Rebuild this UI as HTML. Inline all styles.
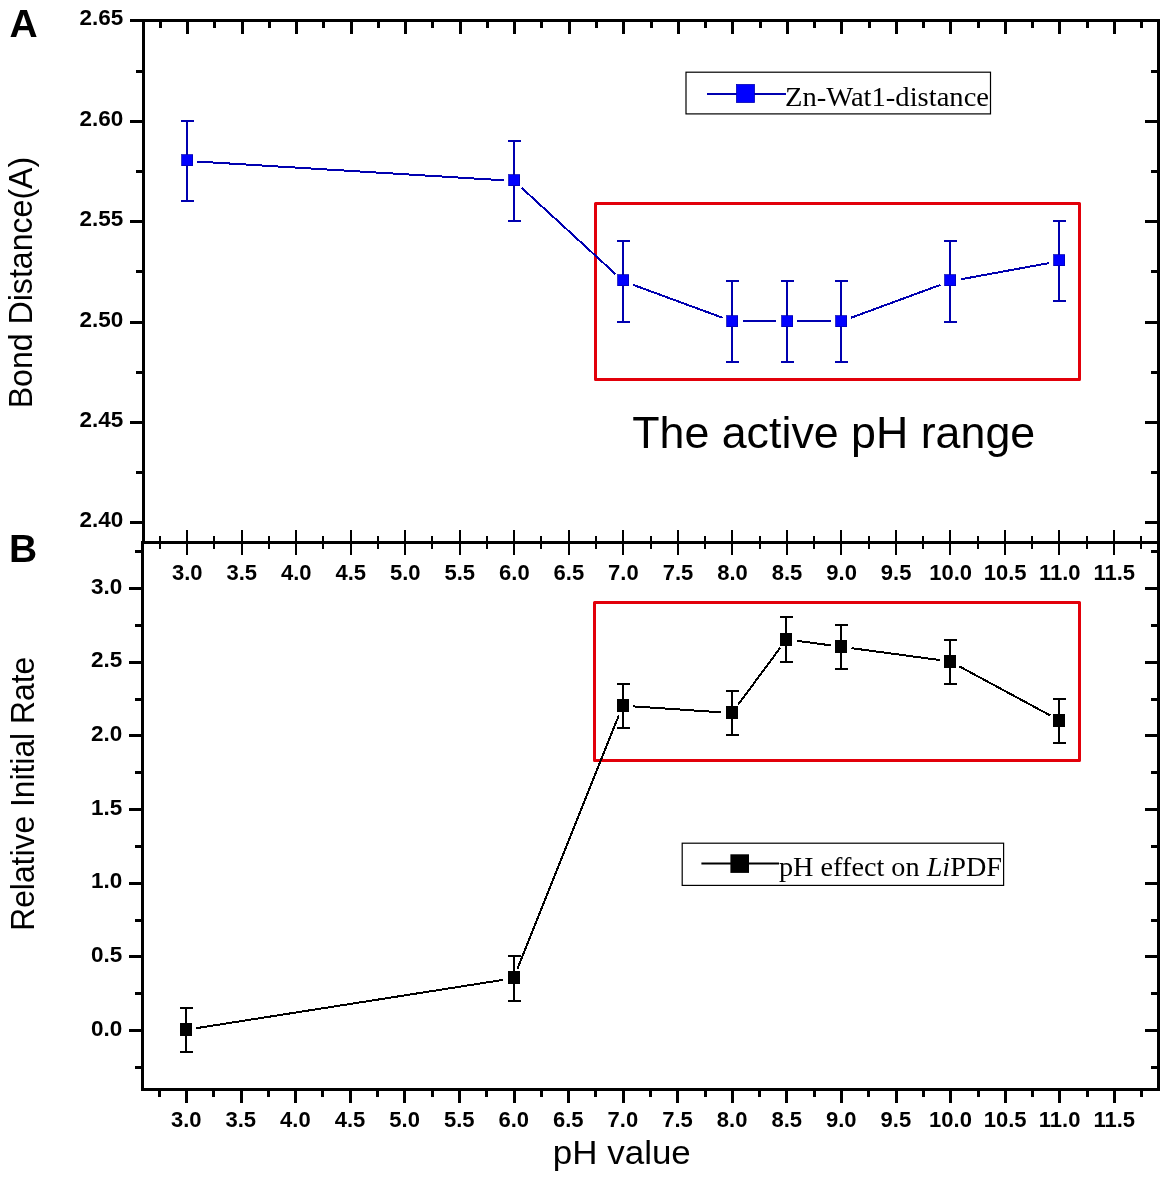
<!DOCTYPE html>
<html lang="en"><head><meta charset="utf-8"><title>pH effect on LiPDF</title>
<style>html,body{margin:0;padding:0;background:#fff}svg{display:block}</style></head>
<body>
<svg width="1170" height="1182" viewBox="0 0 1170 1182">
<rect width="1170" height="1182" fill="#fff"/>
<g stroke-linecap="butt">
<line x1="130.00" y1="20.50" x2="1160.00" y2="20.50" stroke="#000" stroke-width="3" />
<line x1="141.00" y1="542.50" x2="1160.00" y2="542.50" stroke="#000" stroke-width="3" />
<line x1="141.00" y1="1089.50" x2="1160.00" y2="1089.50" stroke="#000" stroke-width="3" />
<line x1="143.50" y1="20.50" x2="143.50" y2="542.50" stroke="#000" stroke-width="3" />
<line x1="142.50" y1="542.50" x2="142.50" y2="1089.50" stroke="#000" stroke-width="3" />
<line x1="1158.50" y1="20.50" x2="1158.50" y2="1089.50" stroke="#000" stroke-width="3" />
<line x1="160.50" y1="22.00" x2="160.50" y2="28.00" stroke="#000" stroke-width="3" />
<line x1="160.00" y1="536.00" x2="160.00" y2="549.00" stroke="#000" stroke-width="2" />
<line x1="159.50" y1="1091.00" x2="159.50" y2="1097.00" stroke="#000" stroke-width="3" />
<line x1="187.50" y1="22.00" x2="187.50" y2="34.00" stroke="#000" stroke-width="3" />
<line x1="187.00" y1="530.00" x2="187.00" y2="555.00" stroke="#000" stroke-width="2" />
<line x1="186.50" y1="1091.00" x2="186.50" y2="1103.00" stroke="#000" stroke-width="3" />
<line x1="214.50" y1="22.00" x2="214.50" y2="28.00" stroke="#000" stroke-width="3" />
<line x1="214.00" y1="536.00" x2="214.00" y2="549.00" stroke="#000" stroke-width="2" />
<line x1="213.50" y1="1091.00" x2="213.50" y2="1097.00" stroke="#000" stroke-width="3" />
<line x1="242.50" y1="22.00" x2="242.50" y2="34.00" stroke="#000" stroke-width="3" />
<line x1="242.00" y1="530.00" x2="242.00" y2="555.00" stroke="#000" stroke-width="2" />
<line x1="241.50" y1="1091.00" x2="241.50" y2="1103.00" stroke="#000" stroke-width="3" />
<line x1="269.50" y1="22.00" x2="269.50" y2="28.00" stroke="#000" stroke-width="3" />
<line x1="269.00" y1="536.00" x2="269.00" y2="549.00" stroke="#000" stroke-width="2" />
<line x1="268.50" y1="1091.00" x2="268.50" y2="1097.00" stroke="#000" stroke-width="3" />
<line x1="296.50" y1="22.00" x2="296.50" y2="34.00" stroke="#000" stroke-width="3" />
<line x1="296.00" y1="530.00" x2="296.00" y2="555.00" stroke="#000" stroke-width="2" />
<line x1="295.50" y1="1091.00" x2="295.50" y2="1103.00" stroke="#000" stroke-width="3" />
<line x1="323.50" y1="22.00" x2="323.50" y2="28.00" stroke="#000" stroke-width="3" />
<line x1="323.00" y1="536.00" x2="323.00" y2="549.00" stroke="#000" stroke-width="2" />
<line x1="322.50" y1="1091.00" x2="322.50" y2="1097.00" stroke="#000" stroke-width="3" />
<line x1="351.50" y1="22.00" x2="351.50" y2="34.00" stroke="#000" stroke-width="3" />
<line x1="351.00" y1="530.00" x2="351.00" y2="555.00" stroke="#000" stroke-width="2" />
<line x1="350.50" y1="1091.00" x2="350.50" y2="1103.00" stroke="#000" stroke-width="3" />
<line x1="378.50" y1="22.00" x2="378.50" y2="28.00" stroke="#000" stroke-width="3" />
<line x1="378.00" y1="536.00" x2="378.00" y2="549.00" stroke="#000" stroke-width="2" />
<line x1="377.50" y1="1091.00" x2="377.50" y2="1097.00" stroke="#000" stroke-width="3" />
<line x1="405.50" y1="22.00" x2="405.50" y2="34.00" stroke="#000" stroke-width="3" />
<line x1="405.00" y1="530.00" x2="405.00" y2="555.00" stroke="#000" stroke-width="2" />
<line x1="404.50" y1="1091.00" x2="404.50" y2="1103.00" stroke="#000" stroke-width="3" />
<line x1="432.50" y1="22.00" x2="432.50" y2="28.00" stroke="#000" stroke-width="3" />
<line x1="432.00" y1="536.00" x2="432.00" y2="549.00" stroke="#000" stroke-width="2" />
<line x1="432.50" y1="1091.00" x2="432.50" y2="1097.00" stroke="#000" stroke-width="3" />
<line x1="460.50" y1="22.00" x2="460.50" y2="34.00" stroke="#000" stroke-width="3" />
<line x1="460.00" y1="530.00" x2="460.00" y2="555.00" stroke="#000" stroke-width="2" />
<line x1="459.50" y1="1091.00" x2="459.50" y2="1103.00" stroke="#000" stroke-width="3" />
<line x1="487.50" y1="22.00" x2="487.50" y2="28.00" stroke="#000" stroke-width="3" />
<line x1="487.00" y1="536.00" x2="487.00" y2="549.00" stroke="#000" stroke-width="2" />
<line x1="486.50" y1="1091.00" x2="486.50" y2="1097.00" stroke="#000" stroke-width="3" />
<line x1="514.50" y1="22.00" x2="514.50" y2="34.00" stroke="#000" stroke-width="3" />
<line x1="514.00" y1="530.00" x2="514.00" y2="555.00" stroke="#000" stroke-width="2" />
<line x1="514.50" y1="1091.00" x2="514.50" y2="1103.00" stroke="#000" stroke-width="3" />
<line x1="541.50" y1="22.00" x2="541.50" y2="28.00" stroke="#000" stroke-width="3" />
<line x1="541.00" y1="536.00" x2="541.00" y2="549.00" stroke="#000" stroke-width="2" />
<line x1="541.50" y1="1091.00" x2="541.50" y2="1097.00" stroke="#000" stroke-width="3" />
<line x1="569.50" y1="22.00" x2="569.50" y2="34.00" stroke="#000" stroke-width="3" />
<line x1="569.00" y1="530.00" x2="569.00" y2="555.00" stroke="#000" stroke-width="2" />
<line x1="568.50" y1="1091.00" x2="568.50" y2="1103.00" stroke="#000" stroke-width="3" />
<line x1="596.50" y1="22.00" x2="596.50" y2="28.00" stroke="#000" stroke-width="3" />
<line x1="596.00" y1="536.00" x2="596.00" y2="549.00" stroke="#000" stroke-width="2" />
<line x1="595.50" y1="1091.00" x2="595.50" y2="1097.00" stroke="#000" stroke-width="3" />
<line x1="623.50" y1="22.00" x2="623.50" y2="34.00" stroke="#000" stroke-width="3" />
<line x1="623.00" y1="530.00" x2="623.00" y2="555.00" stroke="#000" stroke-width="2" />
<line x1="623.50" y1="1091.00" x2="623.50" y2="1103.00" stroke="#000" stroke-width="3" />
<line x1="651.50" y1="22.00" x2="651.50" y2="28.00" stroke="#000" stroke-width="3" />
<line x1="651.00" y1="536.00" x2="651.00" y2="549.00" stroke="#000" stroke-width="2" />
<line x1="650.50" y1="1091.00" x2="650.50" y2="1097.00" stroke="#000" stroke-width="3" />
<line x1="678.50" y1="22.00" x2="678.50" y2="34.00" stroke="#000" stroke-width="3" />
<line x1="678.00" y1="530.00" x2="678.00" y2="555.00" stroke="#000" stroke-width="2" />
<line x1="677.50" y1="1091.00" x2="677.50" y2="1103.00" stroke="#000" stroke-width="3" />
<line x1="705.50" y1="22.00" x2="705.50" y2="28.00" stroke="#000" stroke-width="3" />
<line x1="705.00" y1="536.00" x2="705.00" y2="549.00" stroke="#000" stroke-width="2" />
<line x1="705.50" y1="1091.00" x2="705.50" y2="1097.00" stroke="#000" stroke-width="3" />
<line x1="732.50" y1="22.00" x2="732.50" y2="34.00" stroke="#000" stroke-width="3" />
<line x1="732.00" y1="530.00" x2="732.00" y2="555.00" stroke="#000" stroke-width="2" />
<line x1="732.50" y1="1091.00" x2="732.50" y2="1103.00" stroke="#000" stroke-width="3" />
<line x1="760.50" y1="22.00" x2="760.50" y2="28.00" stroke="#000" stroke-width="3" />
<line x1="760.00" y1="536.00" x2="760.00" y2="549.00" stroke="#000" stroke-width="2" />
<line x1="759.50" y1="1091.00" x2="759.50" y2="1097.00" stroke="#000" stroke-width="3" />
<line x1="787.50" y1="22.00" x2="787.50" y2="34.00" stroke="#000" stroke-width="3" />
<line x1="787.00" y1="530.00" x2="787.00" y2="555.00" stroke="#000" stroke-width="2" />
<line x1="786.50" y1="1091.00" x2="786.50" y2="1103.00" stroke="#000" stroke-width="3" />
<line x1="814.50" y1="22.00" x2="814.50" y2="28.00" stroke="#000" stroke-width="3" />
<line x1="814.00" y1="536.00" x2="814.00" y2="549.00" stroke="#000" stroke-width="2" />
<line x1="814.50" y1="1091.00" x2="814.50" y2="1097.00" stroke="#000" stroke-width="3" />
<line x1="841.50" y1="22.00" x2="841.50" y2="34.00" stroke="#000" stroke-width="3" />
<line x1="841.00" y1="530.00" x2="841.00" y2="555.00" stroke="#000" stroke-width="2" />
<line x1="841.50" y1="1091.00" x2="841.50" y2="1103.00" stroke="#000" stroke-width="3" />
<line x1="869.50" y1="22.00" x2="869.50" y2="28.00" stroke="#000" stroke-width="3" />
<line x1="869.00" y1="536.00" x2="869.00" y2="549.00" stroke="#000" stroke-width="2" />
<line x1="868.50" y1="1091.00" x2="868.50" y2="1097.00" stroke="#000" stroke-width="3" />
<line x1="896.50" y1="22.00" x2="896.50" y2="34.00" stroke="#000" stroke-width="3" />
<line x1="896.00" y1="530.00" x2="896.00" y2="555.00" stroke="#000" stroke-width="2" />
<line x1="896.50" y1="1091.00" x2="896.50" y2="1103.00" stroke="#000" stroke-width="3" />
<line x1="923.50" y1="22.00" x2="923.50" y2="28.00" stroke="#000" stroke-width="3" />
<line x1="923.00" y1="536.00" x2="923.00" y2="549.00" stroke="#000" stroke-width="2" />
<line x1="923.50" y1="1091.00" x2="923.50" y2="1097.00" stroke="#000" stroke-width="3" />
<line x1="950.50" y1="22.00" x2="950.50" y2="34.00" stroke="#000" stroke-width="3" />
<line x1="950.00" y1="530.00" x2="950.00" y2="555.00" stroke="#000" stroke-width="2" />
<line x1="950.50" y1="1091.00" x2="950.50" y2="1103.00" stroke="#000" stroke-width="3" />
<line x1="978.50" y1="22.00" x2="978.50" y2="28.00" stroke="#000" stroke-width="3" />
<line x1="978.00" y1="536.00" x2="978.00" y2="549.00" stroke="#000" stroke-width="2" />
<line x1="978.50" y1="1091.00" x2="978.50" y2="1097.00" stroke="#000" stroke-width="3" />
<line x1="1005.50" y1="22.00" x2="1005.50" y2="34.00" stroke="#000" stroke-width="3" />
<line x1="1005.00" y1="530.00" x2="1005.00" y2="555.00" stroke="#000" stroke-width="2" />
<line x1="1005.50" y1="1091.00" x2="1005.50" y2="1103.00" stroke="#000" stroke-width="3" />
<line x1="1032.50" y1="22.00" x2="1032.50" y2="28.00" stroke="#000" stroke-width="3" />
<line x1="1032.00" y1="536.00" x2="1032.00" y2="549.00" stroke="#000" stroke-width="2" />
<line x1="1032.50" y1="1091.00" x2="1032.50" y2="1097.00" stroke="#000" stroke-width="3" />
<line x1="1059.50" y1="22.00" x2="1059.50" y2="34.00" stroke="#000" stroke-width="3" />
<line x1="1059.00" y1="530.00" x2="1059.00" y2="555.00" stroke="#000" stroke-width="2" />
<line x1="1059.50" y1="1091.00" x2="1059.50" y2="1103.00" stroke="#000" stroke-width="3" />
<line x1="1087.50" y1="22.00" x2="1087.50" y2="28.00" stroke="#000" stroke-width="3" />
<line x1="1087.00" y1="536.00" x2="1087.00" y2="549.00" stroke="#000" stroke-width="2" />
<line x1="1087.50" y1="1091.00" x2="1087.50" y2="1097.00" stroke="#000" stroke-width="3" />
<line x1="1114.50" y1="22.00" x2="1114.50" y2="34.00" stroke="#000" stroke-width="3" />
<line x1="1114.00" y1="530.00" x2="1114.00" y2="555.00" stroke="#000" stroke-width="2" />
<line x1="1114.50" y1="1091.00" x2="1114.50" y2="1103.00" stroke="#000" stroke-width="3" />
<line x1="1141.50" y1="22.00" x2="1141.50" y2="28.00" stroke="#000" stroke-width="3" />
<line x1="1141.00" y1="536.00" x2="1141.00" y2="549.00" stroke="#000" stroke-width="2" />
<line x1="1141.50" y1="1091.00" x2="1141.50" y2="1097.00" stroke="#000" stroke-width="3" />
<line x1="130.00" y1="522.50" x2="142.00" y2="522.50" stroke="#000" stroke-width="3" />
<line x1="1145.00" y1="522.50" x2="1157.00" y2="522.50" stroke="#000" stroke-width="3" />
<line x1="136.00" y1="472.50" x2="142.00" y2="472.50" stroke="#000" stroke-width="3" />
<line x1="1151.00" y1="472.50" x2="1157.00" y2="472.50" stroke="#000" stroke-width="3" />
<line x1="130.00" y1="422.50" x2="142.00" y2="422.50" stroke="#000" stroke-width="3" />
<line x1="1145.00" y1="422.50" x2="1157.00" y2="422.50" stroke="#000" stroke-width="3" />
<line x1="136.00" y1="372.50" x2="142.00" y2="372.50" stroke="#000" stroke-width="3" />
<line x1="1151.00" y1="372.50" x2="1157.00" y2="372.50" stroke="#000" stroke-width="3" />
<line x1="130.00" y1="322.50" x2="142.00" y2="322.50" stroke="#000" stroke-width="3" />
<line x1="1145.00" y1="322.50" x2="1157.00" y2="322.50" stroke="#000" stroke-width="3" />
<line x1="136.00" y1="271.50" x2="142.00" y2="271.50" stroke="#000" stroke-width="3" />
<line x1="1151.00" y1="271.50" x2="1157.00" y2="271.50" stroke="#000" stroke-width="3" />
<line x1="130.00" y1="221.50" x2="142.00" y2="221.50" stroke="#000" stroke-width="3" />
<line x1="1145.00" y1="221.50" x2="1157.00" y2="221.50" stroke="#000" stroke-width="3" />
<line x1="136.00" y1="171.50" x2="142.00" y2="171.50" stroke="#000" stroke-width="3" />
<line x1="1151.00" y1="171.50" x2="1157.00" y2="171.50" stroke="#000" stroke-width="3" />
<line x1="130.00" y1="121.50" x2="142.00" y2="121.50" stroke="#000" stroke-width="3" />
<line x1="1145.00" y1="121.50" x2="1157.00" y2="121.50" stroke="#000" stroke-width="3" />
<line x1="136.00" y1="71.50" x2="142.00" y2="71.50" stroke="#000" stroke-width="3" />
<line x1="1151.00" y1="71.50" x2="1157.00" y2="71.50" stroke="#000" stroke-width="3" />
<line x1="135.00" y1="1067.50" x2="141.00" y2="1067.50" stroke="#000" stroke-width="3" />
<line x1="1151.00" y1="1067.50" x2="1157.00" y2="1067.50" stroke="#000" stroke-width="3" />
<line x1="129.00" y1="1030.50" x2="141.00" y2="1030.50" stroke="#000" stroke-width="3" />
<line x1="1145.00" y1="1030.50" x2="1157.00" y2="1030.50" stroke="#000" stroke-width="3" />
<line x1="135.00" y1="993.50" x2="141.00" y2="993.50" stroke="#000" stroke-width="3" />
<line x1="1151.00" y1="993.50" x2="1157.00" y2="993.50" stroke="#000" stroke-width="3" />
<line x1="129.00" y1="956.50" x2="141.00" y2="956.50" stroke="#000" stroke-width="3" />
<line x1="1145.00" y1="956.50" x2="1157.00" y2="956.50" stroke="#000" stroke-width="3" />
<line x1="135.00" y1="920.50" x2="141.00" y2="920.50" stroke="#000" stroke-width="3" />
<line x1="1151.00" y1="920.50" x2="1157.00" y2="920.50" stroke="#000" stroke-width="3" />
<line x1="129.00" y1="883.50" x2="141.00" y2="883.50" stroke="#000" stroke-width="3" />
<line x1="1145.00" y1="883.50" x2="1157.00" y2="883.50" stroke="#000" stroke-width="3" />
<line x1="135.00" y1="846.50" x2="141.00" y2="846.50" stroke="#000" stroke-width="3" />
<line x1="1151.00" y1="846.50" x2="1157.00" y2="846.50" stroke="#000" stroke-width="3" />
<line x1="129.00" y1="809.50" x2="141.00" y2="809.50" stroke="#000" stroke-width="3" />
<line x1="1145.00" y1="809.50" x2="1157.00" y2="809.50" stroke="#000" stroke-width="3" />
<line x1="135.00" y1="772.50" x2="141.00" y2="772.50" stroke="#000" stroke-width="3" />
<line x1="1151.00" y1="772.50" x2="1157.00" y2="772.50" stroke="#000" stroke-width="3" />
<line x1="129.00" y1="735.50" x2="141.00" y2="735.50" stroke="#000" stroke-width="3" />
<line x1="1145.00" y1="735.50" x2="1157.00" y2="735.50" stroke="#000" stroke-width="3" />
<line x1="135.00" y1="699.50" x2="141.00" y2="699.50" stroke="#000" stroke-width="3" />
<line x1="1151.00" y1="699.50" x2="1157.00" y2="699.50" stroke="#000" stroke-width="3" />
<line x1="129.00" y1="662.50" x2="141.00" y2="662.50" stroke="#000" stroke-width="3" />
<line x1="1145.00" y1="662.50" x2="1157.00" y2="662.50" stroke="#000" stroke-width="3" />
<line x1="135.00" y1="625.50" x2="141.00" y2="625.50" stroke="#000" stroke-width="3" />
<line x1="1151.00" y1="625.50" x2="1157.00" y2="625.50" stroke="#000" stroke-width="3" />
<line x1="129.00" y1="588.50" x2="141.00" y2="588.50" stroke="#000" stroke-width="3" />
<line x1="1145.00" y1="588.50" x2="1157.00" y2="588.50" stroke="#000" stroke-width="3" />
<line x1="135.00" y1="551.50" x2="141.00" y2="551.50" stroke="#000" stroke-width="3" />
<line x1="1151.00" y1="551.50" x2="1157.00" y2="551.50" stroke="#000" stroke-width="3" />
</g>
<g font-family="'Liberation Sans', Arial, sans-serif" font-weight="700" font-size="22px" fill="#000">
<text x="187.2" y="580.1" text-anchor="middle">3.0</text>
<text x="186.2" y="1127" text-anchor="middle">3.0</text>
<text x="241.7" y="580.1" text-anchor="middle">3.5</text>
<text x="240.8" y="1127" text-anchor="middle">3.5</text>
<text x="296.3" y="580.1" text-anchor="middle">4.0</text>
<text x="295.4" y="1127" text-anchor="middle">4.0</text>
<text x="350.8" y="580.1" text-anchor="middle">4.5</text>
<text x="350.0" y="1127" text-anchor="middle">4.5</text>
<text x="405.3" y="580.1" text-anchor="middle">5.0</text>
<text x="404.6" y="1127" text-anchor="middle">5.0</text>
<text x="459.8" y="580.1" text-anchor="middle">5.5</text>
<text x="459.2" y="1127" text-anchor="middle">5.5</text>
<text x="514.4" y="580.1" text-anchor="middle">6.0</text>
<text x="513.7" y="1127" text-anchor="middle">6.0</text>
<text x="568.9" y="580.1" text-anchor="middle">6.5</text>
<text x="568.3" y="1127" text-anchor="middle">6.5</text>
<text x="623.4" y="580.1" text-anchor="middle">7.0</text>
<text x="622.9" y="1127" text-anchor="middle">7.0</text>
<text x="678.0" y="580.1" text-anchor="middle">7.5</text>
<text x="677.5" y="1127" text-anchor="middle">7.5</text>
<text x="732.5" y="580.1" text-anchor="middle">8.0</text>
<text x="732.1" y="1127" text-anchor="middle">8.0</text>
<text x="787.0" y="580.1" text-anchor="middle">8.5</text>
<text x="786.7" y="1127" text-anchor="middle">8.5</text>
<text x="841.6" y="580.1" text-anchor="middle">9.0</text>
<text x="841.3" y="1127" text-anchor="middle">9.0</text>
<text x="896.1" y="580.1" text-anchor="middle">9.5</text>
<text x="895.9" y="1127" text-anchor="middle">9.5</text>
<text x="950.6" y="580.1" text-anchor="middle">10.0</text>
<text x="950.5" y="1127" text-anchor="middle">10.0</text>
<text x="1005.2" y="580.1" text-anchor="middle">10.5</text>
<text x="1005.1" y="1127" text-anchor="middle">10.5</text>
<text x="1059.7" y="580.1" text-anchor="middle">11.0</text>
<text x="1059.6" y="1127" text-anchor="middle">11.0</text>
<text x="1114.2" y="580.1" text-anchor="middle">11.5</text>
<text x="1114.2" y="1127" text-anchor="middle">11.5</text>
<text x="123.2" y="25.3" text-anchor="end" font-size="22.5px">2.65</text>
<text x="123.2" y="126.1" text-anchor="end" font-size="22.5px">2.60</text>
<text x="123.2" y="226.4" text-anchor="end" font-size="22.5px">2.55</text>
<text x="123.2" y="326.6" text-anchor="end" font-size="22.5px">2.50</text>
<text x="123.2" y="426.8" text-anchor="end" font-size="22.5px">2.45</text>
<text x="123.2" y="527.1" text-anchor="end" font-size="22.5px">2.40</text>
<text x="122.2" y="1035.5" text-anchor="end" font-size="22.5px">0.0</text>
<text x="122.2" y="961.8" text-anchor="end" font-size="22.5px">0.5</text>
<text x="122.2" y="888.2" text-anchor="end" font-size="22.5px">1.0</text>
<text x="122.2" y="814.5" text-anchor="end" font-size="22.5px">1.5</text>
<text x="122.2" y="740.8" text-anchor="end" font-size="22.5px">2.0</text>
<text x="122.2" y="667.2" text-anchor="end" font-size="22.5px">2.5</text>
<text x="122.2" y="593.5" text-anchor="end" font-size="22.5px">3.0</text>
</g>
<g font-family="'Liberation Sans', Arial, sans-serif" fill="#000">
<text x="9.6" y="37" font-size="39px" font-weight="700">A</text>
<text x="9" y="562" font-size="39px" font-weight="700">B</text>
<text transform="translate(32,408.3) rotate(-90)" font-size="33px" textLength="251.5" lengthAdjust="spacingAndGlyphs">Bond Distance(A)</text>
<text transform="translate(34.4,930.8) rotate(-90)" font-size="33.3px" textLength="274" lengthAdjust="spacingAndGlyphs">Relative Initial Rate</text>
<text x="552.8" y="1163.8" font-size="33px" textLength="138" lengthAdjust="spacingAndGlyphs">pH value</text>
<text x="632.2" y="448" font-size="45px" textLength="403" lengthAdjust="spacingAndGlyphs">The active pH range</text>
</g>
<rect x="595.5" y="203.5" width="484.0" height="176.0" fill="none" stroke="#e2000a" stroke-width="3" stroke-linejoin="round"/>
<rect x="594.5" y="602.5" width="485.0" height="158.0" fill="none" stroke="#e2000a" stroke-width="3" stroke-linejoin="round"/>
<g shape-rendering="crispEdges">
<line x1="197.48" y1="161.54" x2="503.70" y2="180.31" stroke="#0000b0" stroke-width="2" />
<line x1="521.91" y1="188.06" x2="615.51" y2="274.09" stroke="#0000b0" stroke-width="2" />
<line x1="633.09" y1="284.82" x2="722.45" y2="317.68" stroke="#0000b0" stroke-width="2" />
<line x1="742.80" y1="321.30" x2="776.33" y2="321.30" stroke="#0000b0" stroke-width="2" />
<line x1="797.33" y1="321.30" x2="830.86" y2="321.30" stroke="#0000b0" stroke-width="2" />
<line x1="851.21" y1="317.68" x2="940.57" y2="284.82" stroke="#0000b0" stroke-width="2" />
<line x1="960.75" y1="279.30" x2="1049.15" y2="263.05" stroke="#0000b0" stroke-width="2" />
<line x1="187.00" y1="121.00" x2="187.00" y2="201.00" stroke="#0000b0" stroke-width="2" />
<line x1="181.00" y1="121.00" x2="194.00" y2="121.00" stroke="#0000b0" stroke-width="2" />
<line x1="181.00" y1="201.00" x2="194.00" y2="201.00" stroke="#0000b0" stroke-width="2" />
<rect x="181.5" y="154.5" width="11" height="11" fill="#0000ff" stroke="#0000b4" stroke-width="0.8"/>
<line x1="514.00" y1="141.00" x2="514.00" y2="221.00" stroke="#0000b0" stroke-width="2" />
<line x1="508.00" y1="141.00" x2="521.00" y2="141.00" stroke="#0000b0" stroke-width="2" />
<line x1="508.00" y1="221.00" x2="521.00" y2="221.00" stroke="#0000b0" stroke-width="2" />
<rect x="508.5" y="174.5" width="11" height="11" fill="#0000ff" stroke="#0000b4" stroke-width="0.8"/>
<line x1="623.00" y1="241.00" x2="623.00" y2="322.00" stroke="#0000b0" stroke-width="2" />
<line x1="617.00" y1="241.00" x2="630.00" y2="241.00" stroke="#0000b0" stroke-width="2" />
<line x1="617.00" y1="322.00" x2="630.00" y2="322.00" stroke="#0000b0" stroke-width="2" />
<rect x="617.5" y="274.5" width="11" height="11" fill="#0000ff" stroke="#0000b4" stroke-width="0.8"/>
<line x1="732.00" y1="281.00" x2="732.00" y2="362.00" stroke="#0000b0" stroke-width="2" />
<line x1="726.00" y1="281.00" x2="739.00" y2="281.00" stroke="#0000b0" stroke-width="2" />
<line x1="726.00" y1="362.00" x2="739.00" y2="362.00" stroke="#0000b0" stroke-width="2" />
<rect x="726.5" y="315.5" width="11" height="11" fill="#0000ff" stroke="#0000b4" stroke-width="0.8"/>
<line x1="787.00" y1="281.00" x2="787.00" y2="362.00" stroke="#0000b0" stroke-width="2" />
<line x1="781.00" y1="281.00" x2="794.00" y2="281.00" stroke="#0000b0" stroke-width="2" />
<line x1="781.00" y1="362.00" x2="794.00" y2="362.00" stroke="#0000b0" stroke-width="2" />
<rect x="781.5" y="315.5" width="11" height="11" fill="#0000ff" stroke="#0000b4" stroke-width="0.8"/>
<line x1="841.00" y1="281.00" x2="841.00" y2="362.00" stroke="#0000b0" stroke-width="2" />
<line x1="835.00" y1="281.00" x2="848.00" y2="281.00" stroke="#0000b0" stroke-width="2" />
<line x1="835.00" y1="362.00" x2="848.00" y2="362.00" stroke="#0000b0" stroke-width="2" />
<rect x="835.5" y="315.5" width="11" height="11" fill="#0000ff" stroke="#0000b4" stroke-width="0.8"/>
<line x1="950.00" y1="241.00" x2="950.00" y2="322.00" stroke="#0000b0" stroke-width="2" />
<line x1="944.00" y1="241.00" x2="957.00" y2="241.00" stroke="#0000b0" stroke-width="2" />
<line x1="944.00" y1="322.00" x2="957.00" y2="322.00" stroke="#0000b0" stroke-width="2" />
<rect x="944.5" y="274.5" width="11" height="11" fill="#0000ff" stroke="#0000b4" stroke-width="0.8"/>
<line x1="1059.00" y1="221.00" x2="1059.00" y2="301.00" stroke="#0000b0" stroke-width="2" />
<line x1="1053.00" y1="221.00" x2="1066.00" y2="221.00" stroke="#0000b0" stroke-width="2" />
<line x1="1053.00" y1="301.00" x2="1066.00" y2="301.00" stroke="#0000b0" stroke-width="2" />
<rect x="1053.5" y="254.5" width="11" height="11" fill="#0000ff" stroke="#0000b4" stroke-width="0.8"/>
</g>
<g shape-rendering="crispEdges">
<line x1="196.37" y1="1028.17" x2="503.17" y2="979.87" stroke="#000" stroke-width="2" />
<line x1="517.44" y1="968.49" x2="618.82" y2="715.42" stroke="#000" stroke-width="2" />
<line x1="633.20" y1="706.38" x2="721.42" y2="712.33" stroke="#000" stroke-width="2" />
<line x1="738.15" y1="704.60" x2="780.24" y2="647.81" stroke="#000" stroke-width="2" />
<line x1="796.90" y1="640.78" x2="830.67" y2="645.34" stroke="#000" stroke-width="2" />
<line x1="851.49" y1="648.15" x2="939.85" y2="660.07" stroke="#000" stroke-width="2" />
<line x1="959.50" y1="666.46" x2="1050.20" y2="715.42" stroke="#000" stroke-width="2" />
<line x1="186.00" y1="1008.00" x2="186.00" y2="1052.00" stroke="#000" stroke-width="2" />
<line x1="180.00" y1="1008.00" x2="193.00" y2="1008.00" stroke="#000" stroke-width="2" />
<line x1="180.00" y1="1052.00" x2="193.00" y2="1052.00" stroke="#000" stroke-width="2" />
<rect x="180.5" y="1023.5" width="11" height="12" fill="#000" stroke="#000" stroke-width="1"/>
<line x1="514.00" y1="956.00" x2="514.00" y2="1001.00" stroke="#000" stroke-width="2" />
<line x1="508.00" y1="956.00" x2="521.00" y2="956.00" stroke="#000" stroke-width="2" />
<line x1="508.00" y1="1001.00" x2="521.00" y2="1001.00" stroke="#000" stroke-width="2" />
<rect x="508.5" y="971.5" width="11" height="12" fill="#000" stroke="#000" stroke-width="1"/>
<line x1="623.00" y1="684.00" x2="623.00" y2="728.00" stroke="#000" stroke-width="2" />
<line x1="617.00" y1="684.00" x2="630.00" y2="684.00" stroke="#000" stroke-width="2" />
<line x1="617.00" y1="728.00" x2="630.00" y2="728.00" stroke="#000" stroke-width="2" />
<rect x="617.5" y="699.5" width="11" height="12" fill="#000" stroke="#000" stroke-width="1"/>
<line x1="732.00" y1="691.00" x2="732.00" y2="735.00" stroke="#000" stroke-width="2" />
<line x1="726.00" y1="691.00" x2="739.00" y2="691.00" stroke="#000" stroke-width="2" />
<line x1="726.00" y1="735.00" x2="739.00" y2="735.00" stroke="#000" stroke-width="2" />
<rect x="726.5" y="706.5" width="11" height="12" fill="#000" stroke="#000" stroke-width="1"/>
<line x1="786.00" y1="617.00" x2="786.00" y2="662.00" stroke="#000" stroke-width="2" />
<line x1="780.00" y1="617.00" x2="793.00" y2="617.00" stroke="#000" stroke-width="2" />
<line x1="780.00" y1="662.00" x2="793.00" y2="662.00" stroke="#000" stroke-width="2" />
<rect x="780.5" y="633.5" width="11" height="12" fill="#000" stroke="#000" stroke-width="1"/>
<line x1="841.00" y1="625.00" x2="841.00" y2="669.00" stroke="#000" stroke-width="2" />
<line x1="835.00" y1="625.00" x2="848.00" y2="625.00" stroke="#000" stroke-width="2" />
<line x1="835.00" y1="669.00" x2="848.00" y2="669.00" stroke="#000" stroke-width="2" />
<rect x="835.5" y="640.5" width="11" height="12" fill="#000" stroke="#000" stroke-width="1"/>
<line x1="950.00" y1="640.00" x2="950.00" y2="684.00" stroke="#000" stroke-width="2" />
<line x1="944.00" y1="640.00" x2="957.00" y2="640.00" stroke="#000" stroke-width="2" />
<line x1="944.00" y1="684.00" x2="957.00" y2="684.00" stroke="#000" stroke-width="2" />
<rect x="944.5" y="655.5" width="11" height="12" fill="#000" stroke="#000" stroke-width="1"/>
<line x1="1059.00" y1="699.00" x2="1059.00" y2="743.00" stroke="#000" stroke-width="2" />
<line x1="1053.00" y1="699.00" x2="1066.00" y2="699.00" stroke="#000" stroke-width="2" />
<line x1="1053.00" y1="743.00" x2="1066.00" y2="743.00" stroke="#000" stroke-width="2" />
<rect x="1053.5" y="714.5" width="11" height="12" fill="#000" stroke="#000" stroke-width="1"/>
</g>
<rect x="686" y="72.2" width="304.5" height="41.7" fill="#fff" stroke="#000" stroke-width="1.2"/>
<line x1="707.00" y1="94.00" x2="786.00" y2="94.00" stroke="#0000b0" stroke-width="2" />
<rect x="736.5" y="84.5" width="18" height="18" fill="#0000ff" stroke="#0000b4" stroke-width="0.8"/>
<text x="785" y="105.7" font-family="'Liberation Serif', 'Times New Roman', serif" font-size="28px" textLength="204" lengthAdjust="spacingAndGlyphs">Zn-Wat1-distance</text>
<rect x="682.2" y="843.2" width="321.4" height="42.2" fill="#fff" stroke="#000" stroke-width="1.2"/>
<line x1="701.40" y1="863.60" x2="779.00" y2="863.60" stroke="#000" stroke-width="2" />
<rect x="730.4" y="854.3" width="18.6" height="18.6" fill="#000"/>
<text x="779" y="876.4" font-family="'Liberation Serif', 'Times New Roman', serif" font-size="28px" textLength="223" lengthAdjust="spacingAndGlyphs">pH effect on <tspan font-style="italic">Li</tspan>PDF</text>
</svg>
</body></html>
